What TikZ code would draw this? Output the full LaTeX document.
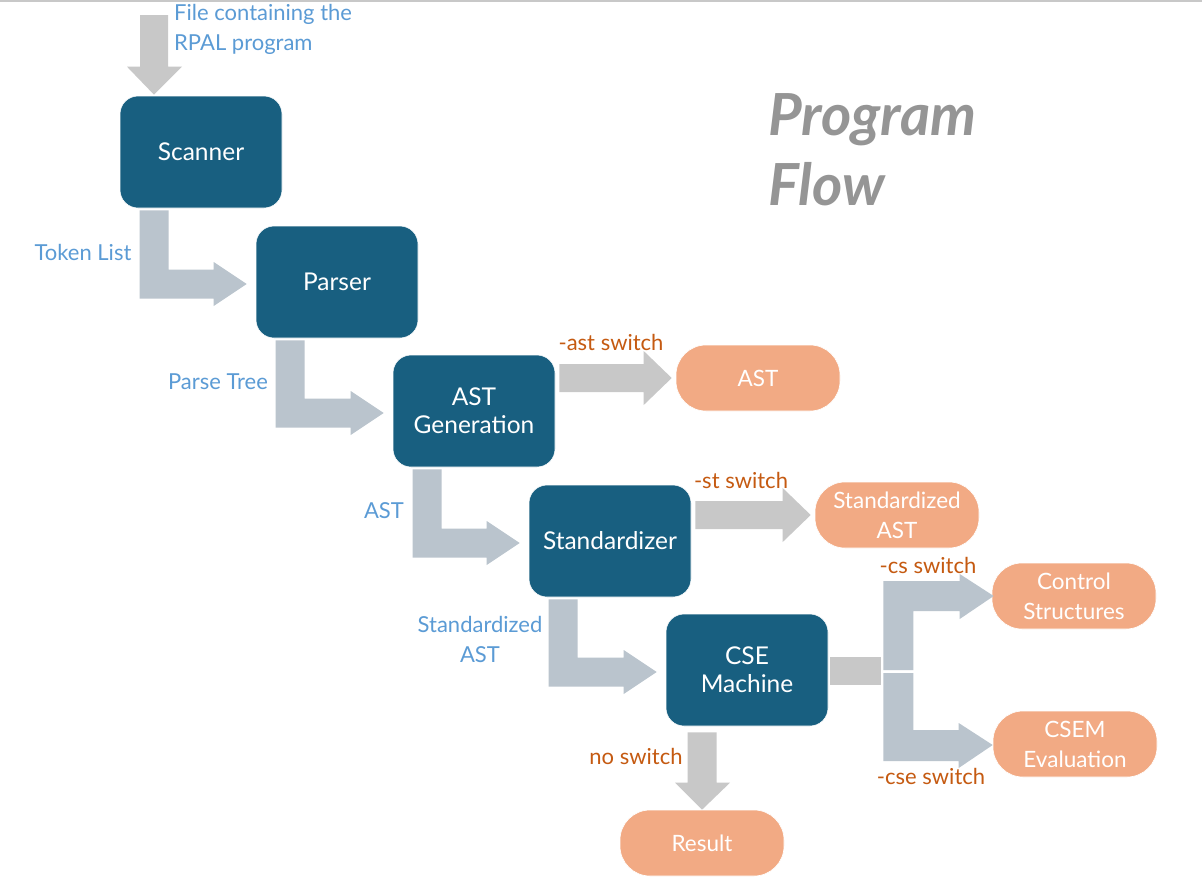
\documentclass[tikz,border=0pt]{standalone}
\usepackage{fontspec}
\setmainfont{Lato}
\usetikzlibrary{calc}
\definecolor{boxblue}{RGB}{24,95,128}
\definecolor{elbowc}{RGB}{186,196,205}
\definecolor{grayc}{RGB}{200,200,200}
\definecolor{pillc}{RGB}{242,170,132}
\definecolor{bluetxt}{RGB}{91,155,213}
\definecolor{orangetxt}{RGB}{197,90,17}
\definecolor{titlegray}{RGB}{149,149,149}
\newcommand\elbowarrow[2]{%
  \fill[elbowc] let \p1=(#1.south west), \p2=(#2.west) in
    (\x1+20pt,\y1-2pt) -- (\x1+49pt,\y1-2pt) -- (\x1+49pt,\y2+12.5pt)
    -- (\x2-42pt,\y2+12.5pt) -- (\x2-42pt,\y2+20pt) -- (\x2-9pt,\y2-2pt)
    -- (\x2-42pt,\y2-24pt) -- (\x2-42pt,\y2-16.5pt) -- (\x1+20pt,\y2-16.5pt) -- cycle;}
\newcommand\straightarrow[2]{%
  \fill[grayc] let \p1=(#1.east), \p2=(#2.west) in
    (\x1+4pt,\y2+14pt) -- (\x2-32pt,\y2+14pt) -- (\x2-32pt,\y2+27pt) -- (\x2-4pt,\y2)
    -- (\x2-32pt,\y2-27pt) -- (\x2-32pt,\y2-14pt) -- (\x1+4pt,\y2-14pt) -- cycle;}
\begin{document}
\begin{tikzpicture}[x=1pt,y=-1pt,
  procbox/.style={fill=boxblue,draw=white,line width=0.6pt,rounded corners=18pt,
    minimum width=162pt,minimum height=112pt,text=white,align=center,
    font=\fontsize{24.5}{28}\selectfont,inner sep=0pt},
  pill/.style={fill=pillc,draw=white,line width=0.6pt,rounded corners=30pt,
    minimum width=164pt,minimum height=66pt,text=white,align=center,
    font=\fontsize{22.5}{30}\selectfont,inner sep=0pt},
  bluelab/.style={text=bluetxt,align=center,font=\fontsize{22}{30}\selectfont,inner sep=0pt},
  orangelab/.style={text=orangetxt,align=center,font=\fontsize{22}{30}\selectfont,inner sep=0pt}]
\useasboundingbox (0,0) rectangle (1202,895);
\fill[white] (0,0) rectangle (1202,895);
\draw[grayc,line width=1.5pt] (0,0.75) -- (1202,0.75);

% process boxes
\node[procbox] (scan) at (201,152) {Scanner};
\node[procbox] (pars) at (337,282) {Parser};
\node[procbox] (astg) at (474,411) {AST\\Generation};
\node[procbox] (stdz) at (610,541) {Standardizer};
\node[procbox] (cse)  at (747,670) {CSE\\Machine};

% outputs
\node[pill] (astout) at (758,378) {AST};
\node[pill] (stdout) at (897,515) {Standardized\\AST};
\node[pill] (csout)  at (1074,596) {Control\\Structures};
\node[pill] (evout)  at (1075,744) {CSEM\\Evaluation};
\node[pill] (res)    at (702,843) {Result};

% input arrow
\coordinate (inp) at (154,15);
\fill[grayc] let \p1=(inp), \p2=(scan.north) in
  (\x1-14pt,\y1) -- (\x1+14pt,\y1) -- (\x1+14pt,\y2+29pt) -- (\x1+28pt,\y2+29pt)
  -- (\x1,\y2+1pt) -- (\x1-27pt,\y2+29pt) -- (\x1-14pt,\y2+29pt) -- cycle;

% elbow arrows
\elbowarrow{scan}{pars}
\elbowarrow{pars}{astg}
\elbowarrow{astg}{stdz}
\elbowarrow{stdz}{cse}

% straight arrows
\straightarrow{astg}{astout}
\straightarrow{stdz}{stdout}

% CSE -> result
\fill[grayc] let \p1=(cse.south), \p2=(res.north) in
  (\x2-14.5pt,\y1-6pt) -- (\x2+14.5pt,\y1-6pt) -- (\x2+14.5pt,\y2+27pt) -- (\x2+28pt,\y2+27pt)
  -- (\x2,\y2) -- (\x2-27pt,\y2+27pt) -- (\x2-14.5pt,\y2+27pt) -- cycle;

% split arrows
\fill[grayc] let \p1=(cse.east) in (\x1+2pt,\y1+13pt) rectangle (\x1+53pt,\y1-15pt);
\fill[elbowc] let \p1=(cse.east), \p2=(csout.west) in
  (\x1+55pt,\y1-0pt) -- (\x1+55pt,\y2+15pt) -- (\x2-32pt,\y2+15pt) -- (\x2-32pt,\y2+22pt)
  -- (\x2+2pt,\y2-0pt) -- (\x2-32pt,\y2-23pt) -- (\x2-32pt,\y2-15pt) -- (\x1+85pt,\y2-15pt)
  -- (\x1+85pt,\y1-0pt) -- cycle;
\fill[elbowc] let \p1=(cse.east), \p2=(evout.west) in
  (\x1+55pt,\y1-3pt) -- (\x1+85pt,\y1-3pt) -- (\x1+85pt,\y2+14pt) -- (\x2-34pt,\y2+14pt)
  -- (\x2-34pt,\y2+21pt) -- (\x2,\y2-1pt) -- (\x2-34pt,\y2-24pt) -- (\x2-34pt,\y2-17pt)
  -- (\x1+55pt,\y2-17pt) -- cycle;

% blue labels
\node[bluelab,align=left,anchor=west] (lfile) at (174,29) {File containing the\\RPAL program};
\node[bluelab] (ltok) at (83,252) {Token List};
\node[bluelab] (lpt) at (218,382) {Parse Tree};
\node[bluelab] (last) at (384,511) {AST};
\node[bluelab] (lsast) at (480,639) {Standardized\\AST};

% orange labels
\node[orangelab] (sw1) at (611,342) {-ast switch};
\node[orangelab] (sw2) at (741,480) {-st switch};
\node[orangelab] (sw3) at (928,565) {-cs switch};
\node[orangelab] (sw4) at (931,776) {-cse switch};
\node[orangelab] (sw5) at (636,756) {no switch};

% title
\node[text=titlegray,align=left,anchor=west,inner sep=0pt,
  font=\fontsize{58}{70}\selectfont\bfseries\itshape] (title) at (768,150) {Program\\Flow};
\end{tikzpicture}
\end{document}
